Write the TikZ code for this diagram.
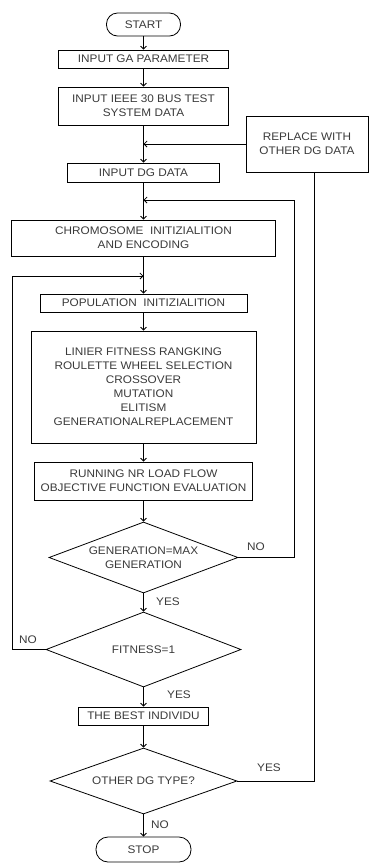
\documentclass[tikz,border=0pt]{standalone}
\usepackage{fontspec}
\setmainfont{Liberation Sans}[FakeStretch=1.07]
\usetikzlibrary{shapes.geometric,arrows.meta}
\definecolor{txt}{HTML}{3a3a3a}
\tikzset{
  base/.style={draw=black, line width=0.8pt, text=txt, font=\fontsize{11}{14}\selectfont, align=center, inner sep=0pt},
  box/.style={base, rectangle},
  term/.style={base, rectangle, rounded corners=11pt},
  dec/.style={base, diamond},
  lbl/.style={text=txt, font=\fontsize{11}{14}\selectfont, inner sep=0pt},
  flow/.style={draw=black, line width=0.8pt, -{Straight Barb[length=3pt,width=6pt]}},
  line/.style={draw=black, line width=0.8pt}
}
\begin{document}
\begin{tikzpicture}[x=1pt,y=-1pt]
\useasboundingbox (0,0) rectangle (369,863);
\node[term, minimum width=74pt, minimum height=23pt] (start) at (143.5,24.5) {START};
\node[box, minimum width=170pt, minimum height=18pt] (ga) at (143.5,59) {INPUT GA PARAMETER};
\node[box, minimum width=170pt, minimum height=38pt] (ieee) at (143.5,106) {INPUT IEEE 30 BUS TEST\\SYSTEM DATA};
\node[box, minimum width=122pt, minimum height=56pt] (rep) at (307,144) {REPLACE WITH\\OTHER DG DATA};
\node[box, minimum width=152pt, minimum height=19pt] (dg) at (143.5,172.5) {INPUT DG DATA};
\node[box, minimum width=264pt, minimum height=36pt] (chrom) at (143.5,238) {CHROMOSOME\ \ INITIZIALITION\\AND ENCODING};
\node[box, minimum width=207pt, minimum height=18pt] (pop) at (143.5,303) {POPULATION\ \ INITIZIALITION};
\node[box, minimum width=225pt, minimum height=112pt] (gaop) at (143.5,387) {LINIER FITNESS RANGKING\\ROULETTE WHEEL SELECTION\\CROSSOVER\\MUTATION\\ELITISM\\GENERATIONALREPLACEMENT};
\node[box, minimum width=218pt, minimum height=38pt] (run) at (143.5,481) {RUNNING NR LOAD FLOW\\OBJECTIVE FUNCTION EVALUATION};
\node[dec, aspect=2.66, minimum width=189pt, minimum height=71pt] (d1) at (143.5,557.5) {GENERATION=MAX\\GENERATION};
\node[dec, aspect=2.6, minimum width=195pt, minimum height=75pt] (d2) at (143.5,649.5) {FITNESS=1};
\node[box, minimum width=130pt, minimum height=18pt] (best) at (143.5,716) {THE BEST INDIVIDU};
\node[dec, aspect=2.83, minimum width=187pt, minimum height=66pt] (d3) at (143.5,781) {OTHER DG TYPE?};
\node[term, minimum width=95pt, minimum height=25pt, rounded corners=12pt] (stop) at (143.5,849.5) {STOP};

\coordinate (j1) at (143.5,144);
\coordinate (j2) at (143.5,200);
\coordinate (j3) at (143.5,276);
\coordinate (r1) at (294,557.5);
\coordinate (r2) at (294,200);
\coordinate (l1) at (12,649.5);
\coordinate (l2) at (12,276);
\coordinate (o1) at (314,781);

\draw[flow] (start) -- (ga);
\draw[flow] (ga) -- (ieee);
\draw[flow] (ieee) -- (dg);
\draw[flow] (rep.west) -- (j1);
\draw[flow] (dg) -- (chrom);
\draw[flow] (d1.east) -- (r1) -- (r2) -- (j2);
\draw[flow] (chrom) -- (pop);
\draw[flow] (d2.west) -- (l1) -- (l2) -- (j3);
\draw[flow] (pop) -- (gaop);
\draw[flow] (gaop) -- (run);
\draw[flow] (run) -- (d1);
\draw[flow] (d1) -- (d2);
\draw[flow] (d2) -- (best);
\draw[flow] (best) -- (d3);
\draw[flow] (d3) -- (stop);
\draw[line] (d3.east) -- (o1) -- (o1 |- rep.south);

\node[lbl] (no1) at (256,547) {NO};
\node[lbl] (yes1) at (168,602) {YES};
\node[lbl] (no2) at (28,640) {NO};
\node[lbl] (yes2) at (179,695) {YES};
\node[lbl] (yes3) at (269,768) {YES};
\node[lbl] (no3) at (160,825) {NO};
\end{tikzpicture}
\end{document}
